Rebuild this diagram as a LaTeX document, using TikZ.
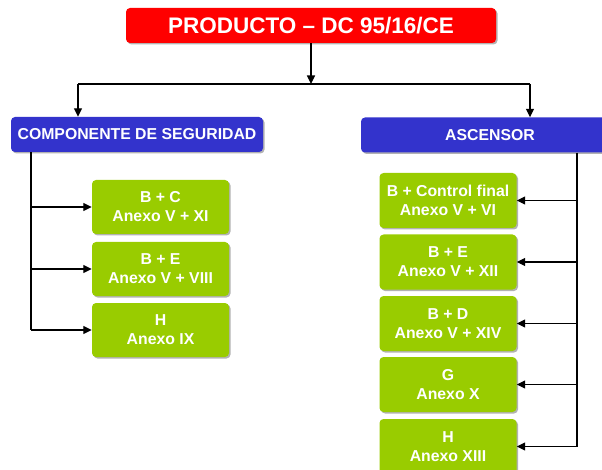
\documentclass[tikz,border=0pt]{standalone}
\usepackage{fontspec}
\setmainfont{Liberation Sans}
\usetikzlibrary{arrows.meta, positioning, shadows}
\definecolor{prodred}{RGB}{255, 0, 0}
\definecolor{grpblue}{RGB}{51, 51, 204}
\definecolor{modgreen}{RGB}{153, 204, 0}

\begin{document}
\begin{tikzpicture}[x=1pt, y=-1pt,
  box/.style={rounded corners=4pt, text=white, align=center, inner sep=0pt,
    drop shadow={shadow xshift=1.5pt, shadow yshift=-1.5pt, fill=black, opacity=0.3}},
  modbox/.style={box, fill=modgreen, minimum width=137pt, minimum height=54pt,
    font={\fontsize{15.8}{19}\selectfont\bfseries}},
  grpbox/.style={box, fill=grpblue, minimum height=35pt,
    font={\fontsize{15.8}{18}\selectfont\bfseries}},
  link/.style={line width=1.2pt},
  arr/.style={link, -{Triangle[length=8.5pt, width=8pt]}}]
  \useasboundingbox (0,0) rectangle (602,470);

  % Top
  \node[box, fill=prodred, minimum width=370pt, minimum height=35pt,
    font={\fontsize{22.5}{26}\selectfont\bfseries}] (producto) at (311,25.5) {PRODUCTO -- DC 95/16/CE};

  \node[grpbox, minimum width=252pt] (comp) at (137,134.5) {COMPONENTE DE SEGURIDAD};
  \node[grpbox, minimum width=258pt] (asc) at (490,135) {ASCENSOR};

  \coordinate (split) at (311,84);
  \coordinate (lsplit) at (78,84);
  \coordinate (rsplit) at (530,84);
  \draw[arr] (producto) -- (split);
  \draw[link] (lsplit) -- (rsplit);
  \draw[arr] (lsplit) -- (lsplit |- comp.north);
  \draw[arr] (rsplit) -- (rsplit |- asc.north);

  % Componente de seguridad
  \node[modbox] (cmBC) at (160.5,207) {B + C\\Anexo V + XI};
  \node[modbox] (cmBE) at (160.5,269) {B + E\\Anexo V + VIII};
  \node[modbox] (cmH) at (160.5,330) {H\\Anexo IX};

  \coordinate (lfoot) at (31,330);
  \draw[link] (lfoot |- comp.south) -- (lfoot);
  \foreach \n in {cmBC, cmBE, cmH}
    \draw[arr] (lfoot |- \n) -- (\n.west);

  % Ascensor
  \node[modbox, minimum height=55pt] (asBCF) at (448,200.5) {B + Control final\\Anexo V + VI};
  \node[modbox, minimum height=55pt] (asBE) at (448,262) {B + E\\Anexo V + XII};
  \node[modbox, minimum height=55pt] (asBD) at (448,323.5) {B + D\\Anexo V + XIV};
  \node[modbox, minimum height=55pt] (asG) at (448,384.5) {G\\Anexo X};
  \node[modbox, minimum height=55pt] (asH) at (448,446.5) {H\\Anexo XIII};

  \coordinate (rfoot) at (577,446.5);
  \draw[link] (rfoot |- asc.south) -- (rfoot);
  \foreach \n in {asBCF, asBE, asBD, asG, asH}
    \draw[arr] (rfoot |- \n) -- (\n.east);
\end{tikzpicture}
\end{document}
